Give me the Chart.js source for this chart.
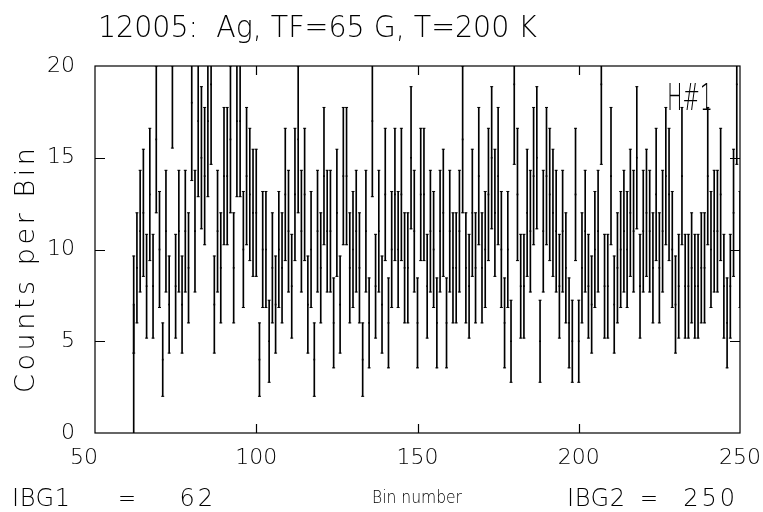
<!DOCTYPE html>
<html>
<head>
<meta charset="utf-8">
<script src="https://cdn.jsdelivr.net/npm/chart.js@4.4.1/dist/chart.umd.min.js"></script>
<style>
  html, body { margin: 0; padding: 0; background: #fff; }
  #wrap { width: 763px; height: 512px; position: relative; }
</style>
</head>
<body>
<div id="wrap"><canvas id="histChart" width="763" height="512"></canvas></div>
<script>
// run header
const runTitle = '12005:  Ag, TF=65 G, T=200 K';
const histLabel = 'H#1';
const ibg1 = 62;
const ibg2 = 250;

// counts per bin, bins ibg1..ibg2
const counts = [
  7, 9, 11, 12, 8, 13, 8, 16, 10, 4,
  11, 7, 20, 8, 11, 7, 11, 9, 18, 11,
  17, 15, 14, 17, 19, 7, 11, 9, 14, 14,
  16, 9, 17, 17, 10, 14, 13, 12, 12, 4,
  10, 10, 5, 9, 7, 10, 9, 13, 11, 8,
  13, 16, 11, 13, 7, 10, 4, 11, 9, 14,
  11, 11, 6, 12, 7, 14, 14, 9, 10, 11,
  9, 4, 11, 6, 17, 8, 11, 7, 13, 6,
  10, 13, 10, 13, 9, 9, 15, 11, 6, 13,
  13, 8, 11, 10, 6, 11, 12, 6, 11, 9,
  9, 11, 16, 9, 8, 12, 9, 14, 9, 10,
  13, 15, 12, 14, 10, 6, 10, 5, 19, 13,
  8, 8, 12, 11, 14, 15, 5, 11, 14, 13,
  12, 11, 8, 11, 9, 6, 5, 13, 5, 9,
  11, 8, 7, 10, 11, 19, 8, 8, 14, 7,
  9, 10, 11, 10, 12, 11, 15, 8, 11, 12,
  11, 9, 13, 9, 11, 14, 13, 10, 7, 8,
  14, 8, 8, 9, 8, 8, 9, 9, 14, 10,
  11, 11, 13, 8, 6, 8, 12, 19, 10
];

const xTicks = [50, 100, 150, 200, 250];
const yTicks = [0, 5, 10, 15, 20];

const FONT = "'DejaVu Sans', sans-serif";
const LIGHT = '200';

const errBars = counts.map((n, i) => ({ x: ibg1 + i, y: [n - Math.sqrt(n), n + Math.sqrt(n)] }));
const centers = counts.map((n, i) => ({ x: ibg1 + i, y: n }));
const caps = [];
counts.forEach((n, i) => {
  caps.push({ x: ibg1 + i, y: n - Math.sqrt(n) });
  caps.push({ x: ibg1 + i, y: n + Math.sqrt(n) });
});
const ibgMarker = [{ x: ibg1, y: [0, counts[0]] }];

// draw text over a given width: spread with letter spacing, or squeeze if too wide
function fitText(ctx, text, x, y, width) {
  ctx.letterSpacing = '0px';
  ctx.textAlign = 'left';
  const w = ctx.measureText(text).width;
  if (w > width) {
    ctx.save();
    ctx.translate(x, y);
    ctx.scale(width / w, 1);
    ctx.fillText(text, 0, 0);
    ctx.restore();
    return;
  }
  const gap = text.length > 1 ? (width - w) / (text.length - 1) : 0;
  ctx.letterSpacing = gap.toFixed(2) + 'px';
  ctx.fillText(text, x, y);
  ctx.letterSpacing = '0px';
}

// right aligned text with a little letter spacing
function rightText(ctx, text, right, y, spacing) {
  ctx.letterSpacing = spacing + 'px';
  ctx.textAlign = 'left';
  const w = ctx.measureText(text).width - spacing;
  ctx.fillText(text, right - w, y);
  ctx.letterSpacing = '0px';
}

// frame, inward ticks and the loose texts
const decor = {
  id: 'decor',
  afterDraw(chart) {
    const { ctx, chartArea: a, scales } = chart;
    const xs = scales.x, ys = scales.y;
    ctx.save();
    ctx.strokeStyle = '#000';
    ctx.lineWidth = 1.2;
    ctx.strokeRect(a.left, a.top, a.right - a.left, a.bottom - a.top);
    ctx.beginPath();
    xTicks.slice(1, -1).forEach(v => {
      const px = Math.round(xs.getPixelForValue(v)) + 0.5;
      ctx.moveTo(px, a.bottom); ctx.lineTo(px, a.bottom - 9);
      ctx.moveTo(px, a.top); ctx.lineTo(px, a.top + 9);
    });
    yTicks.slice(1, -1).forEach(v => {
      const py = Math.round(ys.getPixelForValue(v)) + 0.5;
      ctx.moveTo(a.left, py); ctx.lineTo(a.left + 10, py);
      ctx.moveTo(a.right, py); ctx.lineTo(a.right - 10, py);
    });
    ctx.stroke();

    ctx.fillStyle = '#000';
    ctx.textBaseline = 'alphabetic';
    ctx.font = LIGHT + ' 31px ' + FONT;
    fitText(ctx, runTitle, 98, 37, 439);

    ctx.font = LIGHT + ' 38px ' + FONT;
    fitText(ctx, histLabel, 667, 110, 46);

    ctx.font = LIGHT + ' 24px ' + FONT;
    fitText(ctx, 'IBG1', 12, 506, 58);
    fitText(ctx, '=', 118, 506, 18);
    rightText(ctx, String(ibg1), 213, 506, 3);
    fitText(ctx, 'IBG2', 567, 506, 58);
    fitText(ctx, '=', 640, 506, 18);
    rightText(ctx, String(ibg2), 735, 506, 3);

    ctx.font = LIGHT + ' 18px ' + FONT;
    fitText(ctx, 'Bin number', 372, 503, 90);

    ctx.font = LIGHT + ' 27px ' + FONT;
    ctx.translate(34, 393);
    ctx.rotate(-Math.PI / 2);
    fitText(ctx, 'Counts per Bin', 0, 0, 245);
    ctx.restore();
  }
};

new Chart(document.getElementById('histChart').getContext('2d'), {
  type: 'bar',
  data: {
    datasets: [
      { type: 'bar', data: errBars, backgroundColor: '#000', barThickness: 1, grouped: false, borderWidth: 0 },
      { type: 'bar', data: ibgMarker, backgroundColor: '#000', barThickness: 1, grouped: false, borderWidth: 0 },
      { type: 'scatter', data: caps, pointStyle: 'line', pointRadius: 1.5, borderColor: '#000', borderWidth: 1, showLine: false },
      { type: 'scatter', data: centers, pointStyle: 'rect', pointRadius: 1.2, backgroundColor: '#000', borderWidth: 0, showLine: false }
    ]
  },
  options: {
    responsive: false,
    animation: false,
    events: [],
    layout: { padding: { left: 0, top: 66, right: 23, bottom: 0 } },
    plugins: { legend: { display: false }, tooltip: { enabled: false }, title: { display: false } },
    scales: {
      x: {
        type: 'linear', min: 50, max: 250, offset: false,
        afterFit: s => { s.height = 79; s.paddingLeft = 0; s.paddingRight = 0; },
        afterBuildTicks: s => { s.ticks = xTicks.map(v => ({ value: v })); },
        grid: { display: false, drawTicks: false, offset: false },
        border: { display: false },
        ticks: {
          color: '#000', padding: 12, maxRotation: 0,
          font: { family: FONT, size: 22, weight: LIGHT },
          callback: v => (v === xTicks[0] ? v + '\u2003' : String(v))
        }
      },
      y: {
        min: 0, max: 20,
        afterFit: s => { s.width = 95; s.paddingTop = 0; s.paddingBottom = 0; },
        afterBuildTicks: s => { s.ticks = yTicks.map(v => ({ value: v })); },
        grid: { display: false, drawTicks: false },
        border: { display: false },
        ticks: { color: '#000', padding: 20, font: { family: FONT, size: 22, weight: LIGHT } }
      }
    }
  },
  plugins: [decor]
});
</script>
</body>
</html>
